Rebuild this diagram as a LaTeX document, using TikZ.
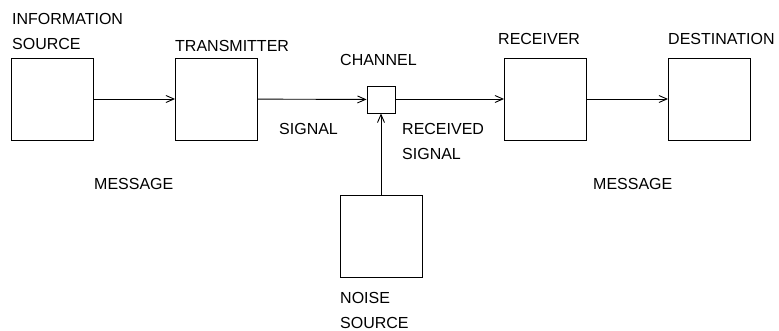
\documentclass[tikz,border=0pt]{standalone}
\usepackage{fontspec}
\setmainfont{Liberation Sans}
\usetikzlibrary{arrows.meta}

\begin{document}
\begin{tikzpicture}[
    x=1pt,y=-1pt,
    font=\fontsize{16}{25}\selectfont,
    block/.style={draw,line width=0.9pt,minimum width=82pt,minimum height=82pt,inner sep=0pt},
    tag/.style={anchor=base west,inner sep=0pt,align=left},
    flow/.style={line width=0.9pt,-{Straight Barb[length=8pt,width=7pt]}}
  ]
  \useasboundingbox (0,0) rectangle (779,331);

  % the five stages and the channel
  \node[block] (source) at (52,99) {};
  \node[block] (transmitter) at (216.5,99) {};
  \node[draw,line width=0.9pt,minimum width=28pt,minimum height=27pt,inner sep=0pt] (channel) at (381,99.5) {};
  \node[block] (receiver) at (545.5,99) {};
  \node[block] (destination) at (709.5,99) {};
  \node[block] (noise) at (381,236) {};

  % two-line labels sit on the baseline of their last line
  \node[tag] (sourcelabel) at (12,50) {INFORMATION\\SOURCE};
  \node[tag] (transmitterlabel) at (175,52) {TRANSMITTER};
  \node[tag] (channellabel) at (340,66) {CHANNEL};
  \node[tag] (receiverlabel) at (498,45) {RECEIVER};
  \node[tag] (destinationlabel) at (668,45) {DESTINATION};
  \node[tag] (noiselabel) at (340,328.5) {NOISE\\SOURCE};

  \node[tag] (signal) at (279,135) {SIGNAL};
  \node[tag] (received) at (402,160) {RECEIVED\\SIGNAL};
  \node[tag] (messagein) at (94,190) {MESSAGE};
  \node[tag] (messageout) at (593,190) {MESSAGE};

  \draw[flow] (source) -- (transmitter);
  \draw[flow] (transmitter) -- (channel);
  \draw[flow] (channel.east |- receiver) -- (receiver);
  \draw[flow] (receiver) -- (destination);
  \draw[flow] (noise) -- (channel);
\end{tikzpicture}
\end{document}
